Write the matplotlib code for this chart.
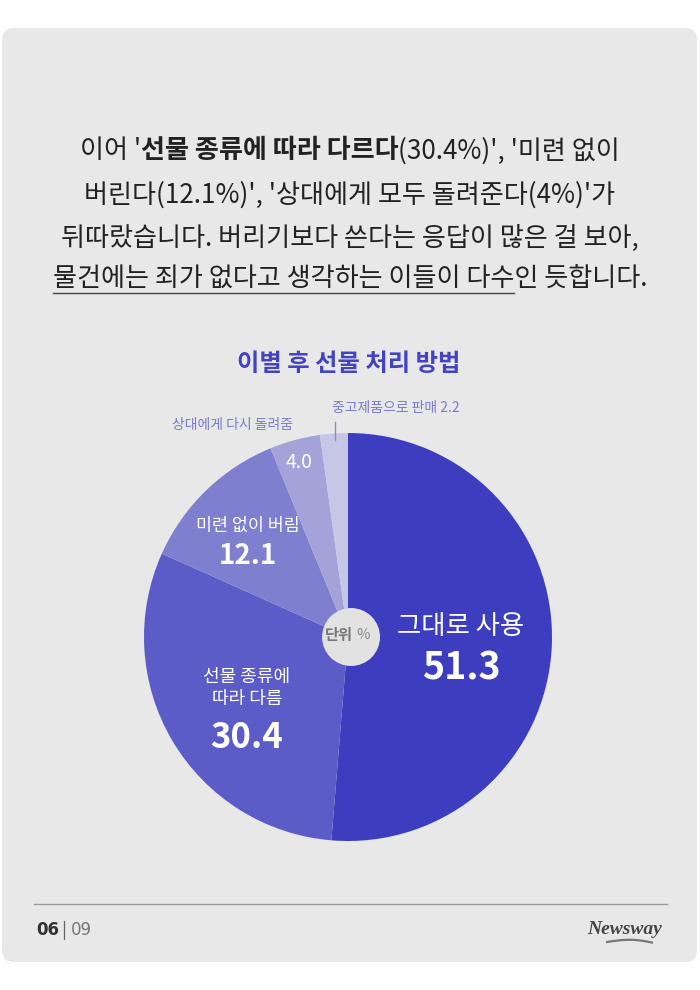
import matplotlib
matplotlib.use("Agg")
import matplotlib.pyplot as plt
from matplotlib.patches import FancyBboxPatch, Circle
import numpy as np

plt.rcParams['font.family'] = ['Noto Sans CJK KR', 'DejaVu Sans']

# ---------------- data ----------------
title = "이별 후 선물 처리 방법"
categories = ["그대로 사용", "선물 종류에\n따라 다름", "미련 없이 버림", "상대에게 다시 돌려줌", "중고제품으로 판매"]
values = [51.3, 30.4, 12.1, 4.0, 2.2]
colors = ["#3d3dbf", "#5c5cc9", "#7f7fd0", "#a3a3da", "#c6c6e6"]
unit_label = ("단위", "%")
body_lines = [
    [("이어 '", "normal"), ("선물 종류에 따라 다르다", "bold"), ("(30.4%)', '미련 없이", "normal")],
    [("버린다(12.1%)', '상대에게 모두 돌려준다(4%)'가", "normal")],
    [("뒤따랐습니다. 버리기보다 쓴다는 응답이 많은 걸 보아,", "normal")],
    [("물건에는 죄가 없다고 생각하는 이들이 다수인 듯합니다.", "normal")],
]
page_now, page_total = "06", "09"
brand = "Newsway"

W, H = 700, 990
fig = plt.figure(figsize=(W / 100, H / 100), dpi=100)
fig.patch.set_facecolor("white")

# background axes
bg = fig.add_axes([0, 0, 1, 1], zorder=0)
bg.set_xlim(0, W)
bg.set_ylim(H, 0)
bg.axis("off")
card = FancyBboxPatch((2, 28), 695, 934, boxstyle="round,pad=0,rounding_size=12",
                      fc="#e8e8e8", ec="none")
bg.add_patch(card)

# pie axes
cx, cy, r = 348, 637, 204
pax = fig.add_axes([(cx - r) / W, (H - cy - r) / H, 2 * r / W, 2 * r / H], zorder=1)
pax.pie(values, colors=colors, startangle=90, counterclock=False, radius=1,
        wedgeprops=dict(linewidth=0))
pax.set_xlim(-1, 1)
pax.set_ylim(-1, 1)
pax.set_aspect("equal")
pax.axis("off")
pax.add_patch(Circle((0.015, 0.0), 0.142, fc="#e2e2e2", ec="none", zorder=5))

# overlay axes for texts
ax = fig.add_axes([0, 0, 1, 1], zorder=2)
ax.set_xlim(0, W)
ax.set_ylim(H, 0)
ax.axis("off")
ax.patch.set_alpha(0)

renderer = fig.canvas.get_renderer()
line_y = [151, 195, 238, 279]
body_fs = 18.8
for yy, segs in zip(line_y, body_lines):
    objs = []
    for s, w in segs:
        t = ax.text(0, yy, s, fontsize=body_fs, fontweight=w, color="#222222",
                    ha="left", va="center")
        objs.append(t)
    widths = [t.get_window_extent(renderer).width for t in objs]
    total = sum(widths)
    x0 = W / 2 - total / 2
    for t, wdt in zip(objs, widths):
        t.set_x(x0)
        x0 += wdt
    if yy == line_y[-1]:
        xs = W / 2 - total / 2
        ax.plot([xs, xs + 0.776 * total], [yy + 14, yy + 14], color="#444444", lw=1.0)

# title
ax.text(349, 364, title, fontsize=17.5, fontweight="bold", color="#4343c4",
        ha="center", va="center")

# center unit label
ax.text(353, 635, unit_label[0], fontsize=11, fontweight="bold", color="#777777",
        ha="right", va="center")
ax.text(356, 635, unit_label[1], fontsize=10.5, color="#888888", ha="left", va="center")

# labels in slices
ax.text(461, 627, categories[0], fontsize=19, color="white", ha="center", va="center")
ax.text(461, 668, f"{values[0]:.1f}", fontsize=27, fontweight="bold", color="white",
        ha="center", va="center")
ax.text(247, 688, categories[1], fontsize=13, color="white", ha="center", va="center",
        linespacing=1.25)
ax.text(247, 737, f"{values[1]:.1f}", fontsize=25, fontweight="bold", color="white",
        ha="center", va="center")
ax.text(248, 526, categories[2], fontsize=12.5, color="white", ha="center", va="center")
ax.text(248, 556, f"{values[2]:.1f}", fontsize=20, fontweight="bold", color="white",
        ha="center", va="center")
ax.text(299, 462, f"{values[3]:.1f}", fontsize=14, color="white", ha="center", va="center")

# outside labels
ax.text(232, 425, categories[3], fontsize=10, color="#7b7bcc", ha="center", va="center")
ax.text(396, 408, f"{categories[4]} {values[4]:.1f}", fontsize=10, color="#7b7bcc",
        ha="center", va="center")
ax.plot([335, 335], [422, 440], color="#8a8ad0", lw=1.0)

# footer
ax.plot([34, 667], [904, 904], color="#9a9a9a", lw=1.0)
ax.text(36, 930, page_now, fontsize=12, fontweight="bold", color="#333333",
        ha="left", va="center", family="DejaVu Sans")
ax.plot([63.5, 63.5], [921, 939], color="#666666", lw=0.9)
ax.text(71, 930, page_total, fontsize=12, color="#777777", ha="left", va="center",
        family="DejaVu Sans")
ax.text(662, 929, brand, fontsize=14, fontweight="bold", style="italic", color="#444444",
        ha="right", va="center", family="Liberation Serif")
tt = np.linspace(0, 1, 30)
ax.plot(607 + 45 * tt, 942 - 3 * np.sin(tt * np.pi * 0.9) + 1.5 * tt, color="#777777", lw=1.6)

fig.savefig("out.png", dpi=100, facecolor="white")
